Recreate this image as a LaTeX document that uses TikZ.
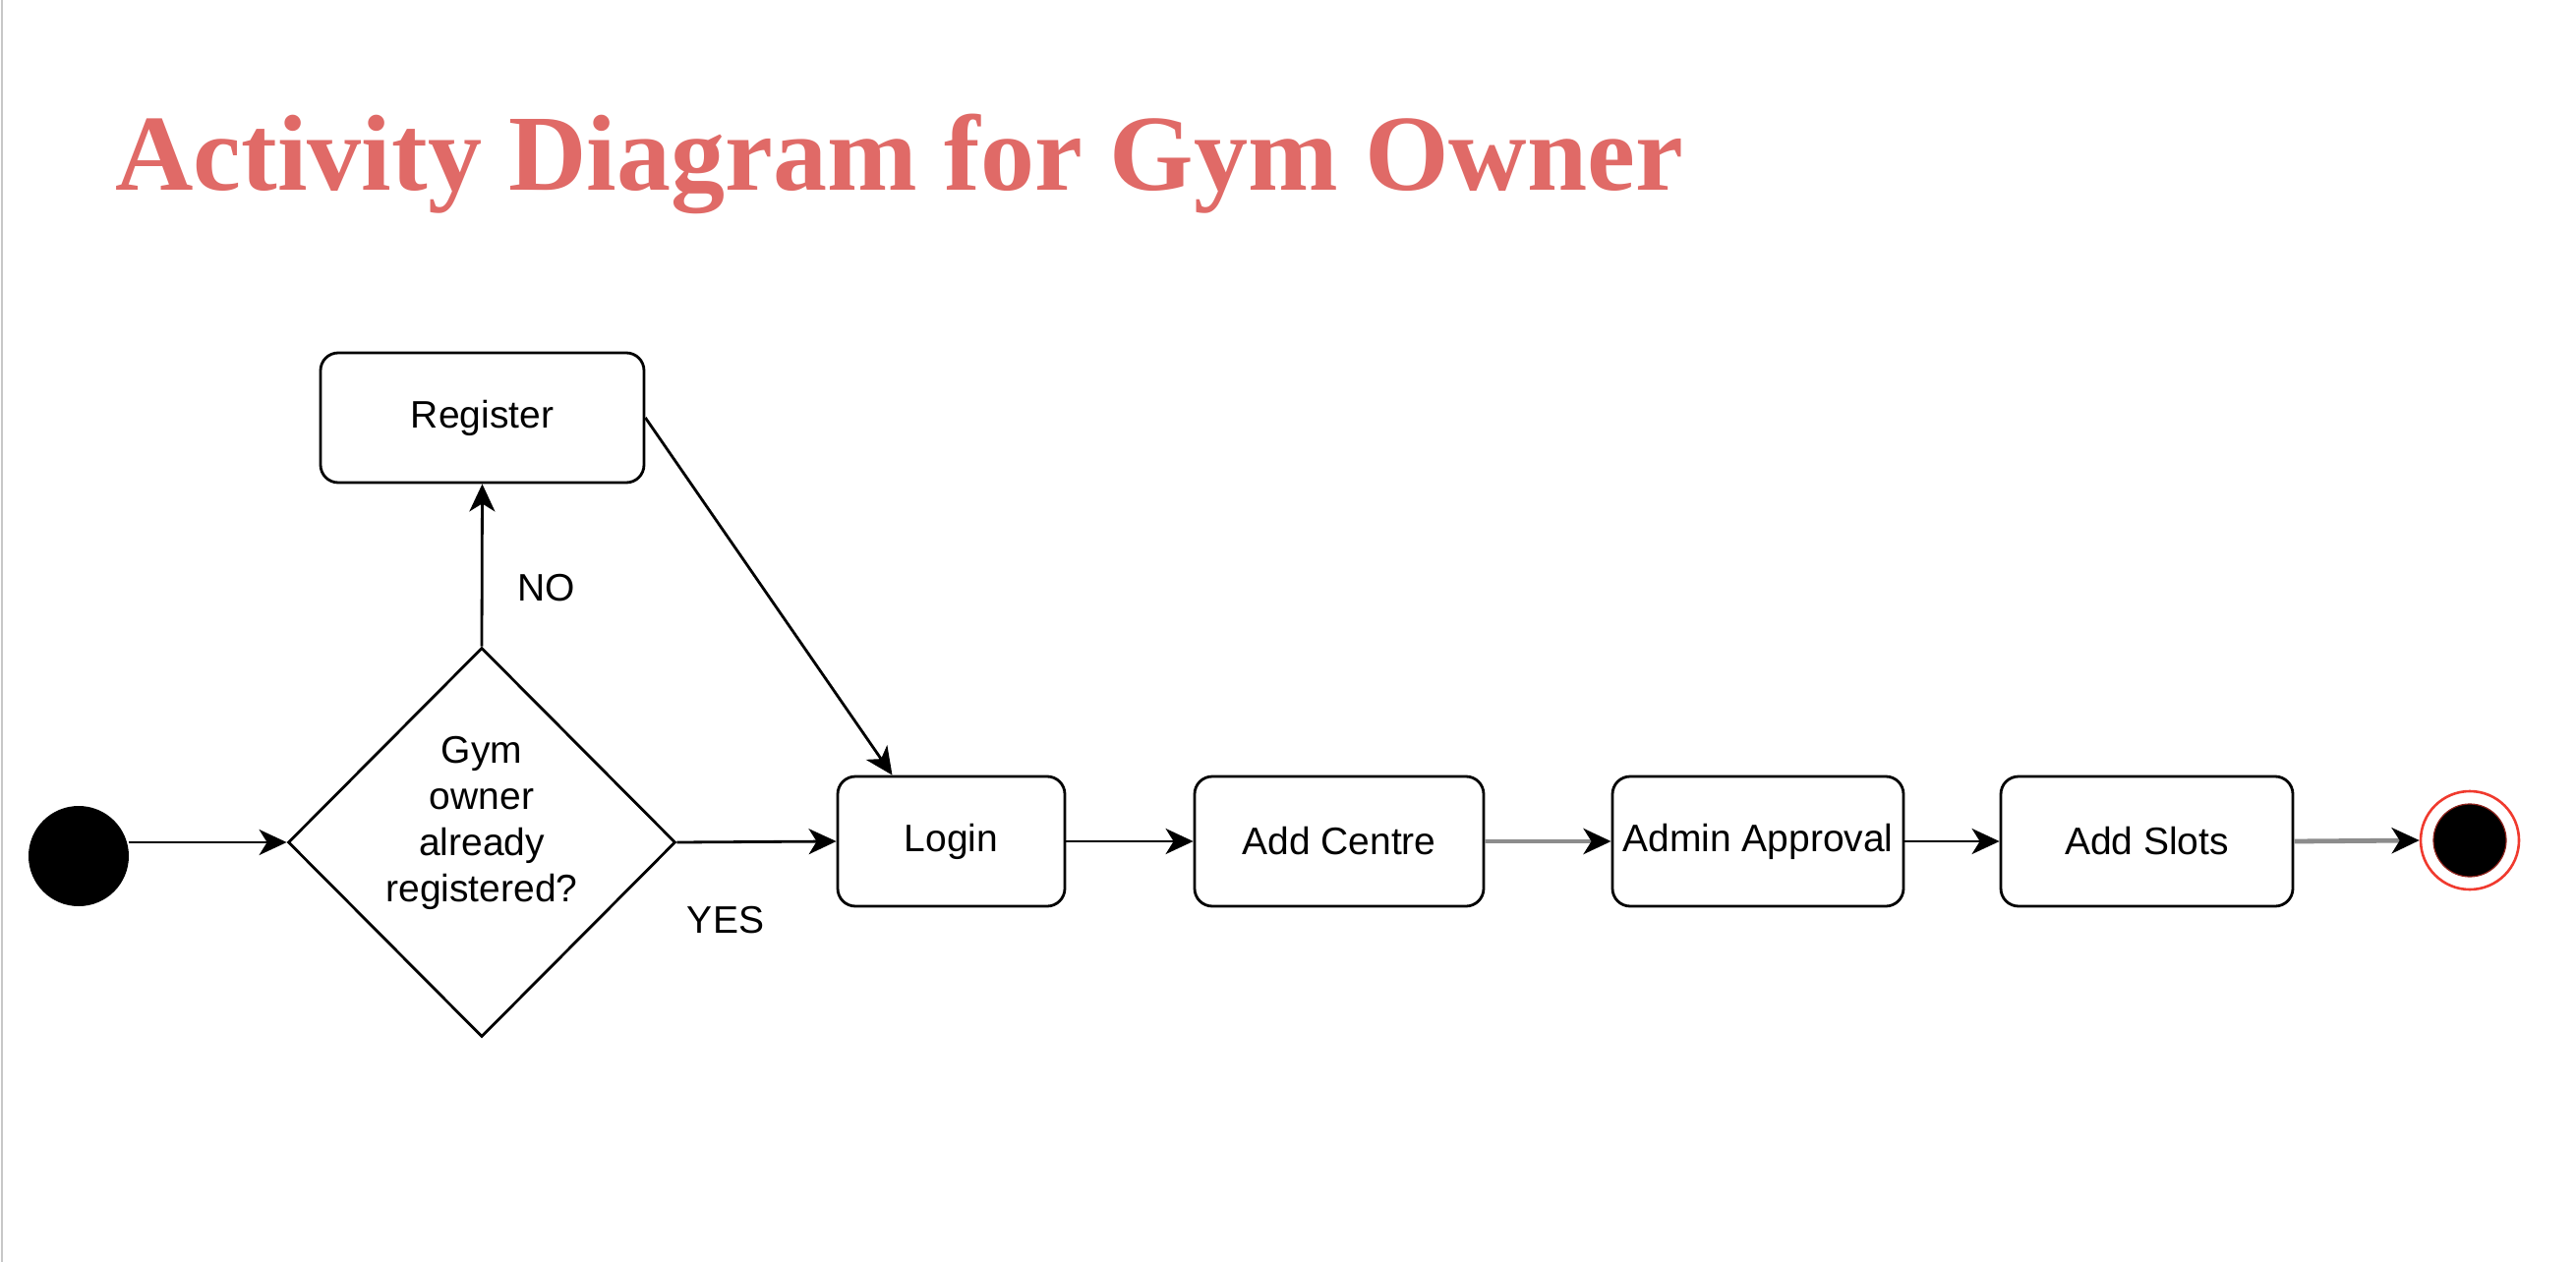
\documentclass[tikz,border=0pt]{standalone}
\usepackage{fontspec}
\setmainfont{Liberation Sans}
\newfontfamily\titlefont{Liberation Serif}
\usetikzlibrary{shapes.geometric,arrows.meta}
\definecolor{titlered}{HTML}{E06A67}
\definecolor{linegray}{HTML}{8C8C8C}
\definecolor{endred}{HTML}{F03A2E}
\begin{document}
\begin{tikzpicture}[x=0.5pt,y=-0.5pt,
  txt/.style={font=\fontsize{19.5}{23.5}\selectfont},
  act/.style={draw,line width=1.4pt,rounded corners=9pt,minimum height=66pt,inner sep=0pt,txt},
  lbl/.style={txt,inner sep=0pt},
  flow/.style={line width=1.4pt,-{Stealth[length=14pt,width=13pt,inset=4pt]}},
  grayflow/.style={draw=linegray,line width=2.4pt,-{Stealth[length=14pt,width=13pt,inset=4pt,color=black]}}
]
\useasboundingbox[fill=white] (0,0) rectangle (2620,1284);
\draw[black!22,line width=1.2pt] (2,0) -- (2,1284);

\node[anchor=base west,inner sep=0pt,text=titlered,font=\titlefont\bfseries\fontsize{55}{60}\selectfont] (title) at (117,193) {Activity Diagram for Gym Owner};

\node[circle,fill=black,minimum size=51pt,inner sep=0pt] (start) at (80,871) {};
\node[diamond,draw,line width=1.4pt,minimum width=197pt,minimum height=198pt,inner sep=0pt] (dec) at (490,857) {};
\node[lbl,align=center] (dectext) at ([yshift=10pt]dec.center) {Gym\\owner\\already\\registered?};
\node[act,minimum width=164.5pt] (reg) at (490.5,425) {Register};
\node[act,minimum width=115.5pt] (login) at (967.5,856) {Login};
\node[act,minimum width=147pt] (centre) at (1362,856) {Add Centre};
\node[act,minimum width=148pt] (admin) at (1788,856) {Admin Approval};
\node[act,minimum width=148.5pt] (slots) at (2183.5,856) {Add Slots};
\node[circle,draw=endred,line width=1.3pt,minimum size=50pt,inner sep=0pt] (end) at (2512,855) {};
\node[circle,fill=black,draw=endred!60!black,line width=0.6pt,minimum size=37pt,inner sep=0pt] (endin) at (end) {};

\node[lbl] (no) at (556,598) {NO};
\node[lbl] (yes) at (738,936) {YES};

\draw[flow] (start.east |- dec.west) -- (dec.west);
\draw[flow] (dec.north) -- (reg.south);
\draw[flow] (dec.east) -- (login.west);
\draw[flow] (reg.east) -- ([xshift=-30pt]login.north);
\draw[flow] (login.east) -- (centre.west);
\draw[grayflow] (centre.east) -- (admin.west);
\draw[flow] (admin.east) -- (slots.west);
\draw[grayflow] (slots.east) -- (end.west);
\end{tikzpicture}
\end{document}
